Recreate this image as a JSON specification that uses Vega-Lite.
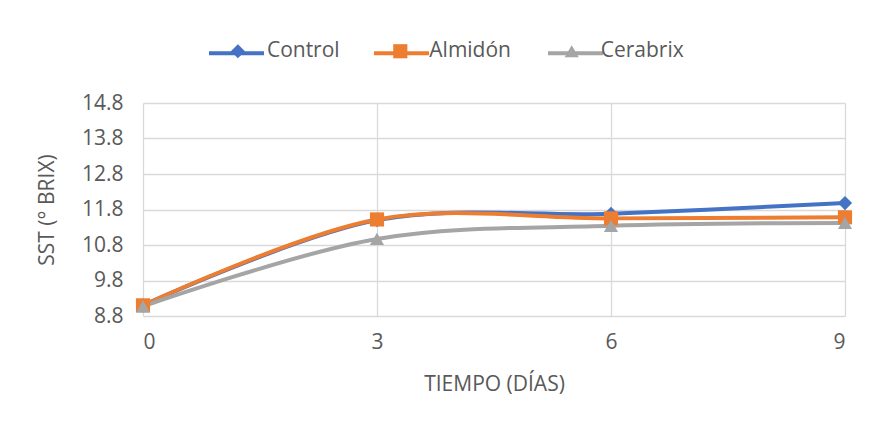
{
  "$schema": "https://vega.github.io/schema/vega-lite/v6.json",
  "width": 702,
  "height": 213,
  "autosize": {"type": "none"},
  "padding": {"left": 143, "top": 103, "right": 27, "bottom": 109},
  "background": "white",
  "config": {
    "font": "Open Sans",
    "view": {"stroke": null},
    "axis": {
      "labelFont": "Open Sans",
      "titleFont": "Open Sans",
      "labelFontSize": 21,
      "titleFontSize": 21,
      "labelColor": "#595959",
      "titleColor": "#595959",
      "titleFontWeight": "normal",
      "gridColor": "#d9d9d9",
      "gridWidth": 1.3,
      "domain": false,
      "ticks": false
    },
    "legend": {
      "labelFont": "Open Sans",
      "labelFontSize": 21,
      "labelColor": "#595959",
      "padding": 0
    }
  },
  "data": {
    "values": [
      {"dia": 0, "serie": "Control", "sst": 9.1},
      {"dia": 3, "serie": "Control", "sst": 11.5},
      {"dia": 6, "serie": "Control", "sst": 11.68},
      {"dia": 9, "serie": "Control", "sst": 11.98},
      {"dia": 0, "serie": "Almidón", "sst": 9.1},
      {"dia": 3, "serie": "Almidón", "sst": 11.52},
      {"dia": 6, "serie": "Almidón", "sst": 11.55},
      {"dia": 9, "serie": "Almidón", "sst": 11.58},
      {"dia": 0, "serie": "Cerabrix", "sst": 9.07},
      {"dia": 3, "serie": "Cerabrix", "sst": 10.97},
      {"dia": 6, "serie": "Cerabrix", "sst": 11.34},
      {"dia": 9, "serie": "Cerabrix", "sst": 11.42}
    ]
  },
  "encoding": {
    "x": {
      "field": "dia",
      "type": "quantitative",
      "scale": {"domain": [0, 9], "nice": false, "zero": false},
      "axis": {
        "values": [0, 3, 6, 9],
        "title": "TIEMPO (DÍAS)",
        "labelPadding": 15,
        "titlePadding": 21,
        "grid": true
      }
    },
    "y": {
      "field": "sst",
      "type": "quantitative",
      "scale": {"domain": [8.8, 14.8], "nice": false, "zero": false},
      "axis": {
        "values": [8.8, 9.8, 10.8, 11.8, 12.8, 13.8, 14.8],
        "format": ".1f",
        "title": "SST (° BRIX)",
        "labelPadding": 20,
        "titlePadding": 24,
        "grid": true
      }
    }
  },
  "layer": [
    {
      "mark": {"type": "line", "interpolate": "catmull-rom", "strokeWidth": 4},
      "encoding": {
        "color": {
          "field": "serie",
          "type": "nominal",
          "sort": ["Control", "Almidón", "Cerabrix"],
          "scale": {"range": ["#4472C4", "#ED7D31", "#A5A5A5"]},
          "legend": {
            "title": null,
            "orient": "none",
            "direction": "horizontal",
            "legendX": 64,
            "legendY": -79.5,
            "columnPadding": 24,
            "labelOffset": 3,
            "symbolType": "stroke",
            "symbolSize": 3025,
            "symbolStrokeWidth": 4,
            "labelOpacity": 0
          }
        }
      }
    },
    {
      "mark": {"type": "point", "filled": true, "opacity": 1, "size": 200, "strokeWidth": 0},
      "encoding": {
        "fill": {
          "field": "serie",
          "type": "nominal",
          "scale": {
            "domain": ["Control", "Almidón", "Cerabrix"],
            "range": ["#4472C4", "#ED7D31", "#A5A5A5"]
          },
          "legend": {
            "title": null,
            "orient": "none",
            "direction": "horizontal",
            "legendX": 84.4,
            "legendY": -62.5,
            "columnPadding": 49.4,
            "labelOffset": 18.5,
            "symbolSize": 200,
            "symbolStrokeWidth": 0,
            "symbolOpacity": 1
          }
        },
        "shape": {
          "field": "serie",
          "type": "nominal",
          "scale": {
            "domain": ["Control", "Almidón", "Cerabrix"],
            "range": ["diamond", "square", "triangle-up"]
          }
        }
      }
    }
  ]
}
